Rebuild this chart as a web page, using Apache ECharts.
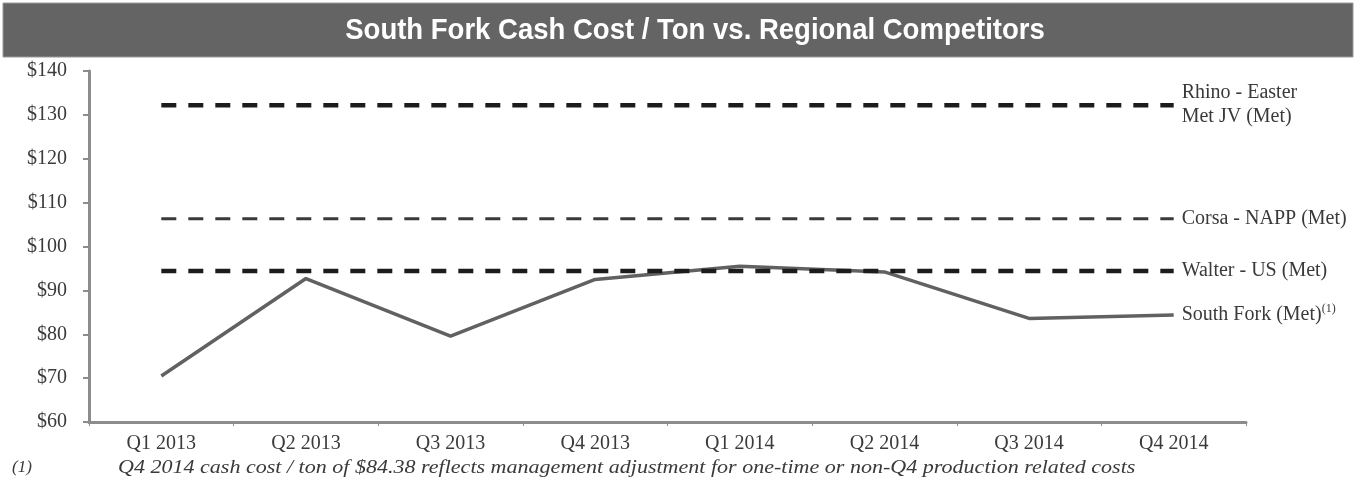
<!DOCTYPE html>
<html>
<head>
<meta charset="utf-8">
<script src="https://cdn.jsdelivr.net/npm/echarts@6/dist/echarts.min.js"></script>
<style>
  html, body { margin: 0; padding: 0; background: #ffffff; }
  #chart { width: 1356px; height: 484px; }
</style>
</head>
<body>
<div id="chart"></div>
<script>
// ---- data ----
const categories = ['Q1 2013', 'Q2 2013', 'Q3 2013', 'Q4 2013', 'Q1 2014', 'Q2 2014', 'Q3 2014', 'Q4 2014'];
const southFork = [70.5, 92.7, 79.6, 92.5, 95.5, 94.2, 83.6, 84.38];
const rhino = [132.2, 132.2, 132.2, 132.2, 132.2, 132.2, 132.2, 132.2];
const corsa = [106.3, 106.3, 106.3, 106.3, 106.3, 106.3, 106.3, 106.3];
const walter = [94.4, 94.4, 94.4, 94.4, 94.4, 94.4, 94.4, 94.4];
const yTicks = { min: 60, max: 140, interval: 10 };
const titleText = 'South Fork Cash Cost / Ton vs. Regional Competitors';
const footnoteMark = '(1)';
const footnoteText = 'Q4 2014 cash cost / ton of $84.38 reflects management adjustment for one-time or non-Q4 production related costs';
const labels = {
  southFork: 'South Fork (Met)',
  rhino: 'Rhino - Easter\nMet JV (Met)',
  corsa: 'Corsa - NAPP (Met)',
  walter: 'Walter - US (Met)'
};

const serif = '"Liberation Serif", "DejaVu Serif", serif';
const textColor = '#3a3a3a';
const axisColor = '#8c8c8c';

const chart = echarts.init(document.getElementById('chart'), null, { renderer: 'canvas' });

function dashed(name, data, width, color, label) {
  return {
    name: name,
    type: 'line',
    data: data,
    symbol: 'none',
    silent: true,
    lineStyle: { color: color, width: width, type: [15, 12], cap: 'butt' },
    endLabel: {
      show: true,
      formatter: label,
      distance: 8,
      fontFamily: serif,
      fontSize: 20,
      lineHeight: 24,
      color: textColor,
      align: 'left'
    }
  };
}

chart.setOption({
  animation: false,
  backgroundColor: '#ffffff',
  grid: { left: 89, right: 110, top: 71, bottom: 62, containLabel: false },
  xAxis: {
    type: 'category',
    data: categories,
    boundaryGap: true,
    axisLine: { lineStyle: { color: axisColor, width: 3 } },
    axisTick: { show: true, length: 4, lineStyle: { color: axisColor, width: 1 } },
    axisLabel: { color: textColor, fontFamily: serif, fontSize: 20, margin: 12 },
    splitLine: { show: false }
  },
  yAxis: {
    type: 'value',
    min: yTicks.min,
    max: yTicks.max,
    interval: yTicks.interval,
    axisLine: { show: true, lineStyle: { color: axisColor, width: 3 } },
    axisTick: { show: true, length: 6, lineStyle: { color: axisColor, width: 2 } },
    axisLabel: { color: textColor, fontFamily: serif, fontSize: 20, margin: 22, formatter: v => '$' + v },
    splitLine: { show: false }
  },
  series: [
    {
      name: 'South Fork (Met)',
      type: 'line',
      data: southFork,
      symbol: 'none',
      lineStyle: { color: '#616161', width: 3.5 },
      endLabel: {
        show: true,
        distance: 8,
        formatter: '{a|' + labels.southFork + '}{s|(1)}',
        rich: {
          a: { fontFamily: serif, fontSize: 20, color: textColor, lineHeight: 24 },
          s: { fontFamily: serif, fontSize: 12, color: textColor, verticalAlign: 'top', lineHeight: 24, padding: [0, 0, 10, 0] }
        }
      }
    },
    dashed('Rhino - Easter Met JV (Met)', rhino, 4.5, '#1c1c1c', labels.rhino),
    dashed('Corsa - NAPP (Met)', corsa, 3, '#3a3a3a', labels.corsa),
    dashed('Walter - US (Met)', walter, 4.5, '#1c1c1c', labels.walter)
  ],
  graphic: [
    { type: 'rect', shape: { x: 3, y: 3, width: 1350, height: 54 }, style: { fill: '#646464', stroke: '#9a9a9a', lineWidth: 1 }, silent: true },
    { type: 'text', x: 695, y: 31, scaleX: 0.917, style: { text: titleText, fill: '#ffffff', font: 'bold 30px "Liberation Sans", Arial, sans-serif', align: 'center', verticalAlign: 'middle' }, silent: true },
    { type: 'text', x: 12, y: 468, style: { text: footnoteMark, fill: textColor, font: 'italic 17px ' + serif, align: 'left', verticalAlign: 'middle' }, silent: true },
    { type: 'text', x: 118, y: 468, scaleX: 1.16, style: { text: footnoteText, fill: textColor, font: 'italic 19px ' + serif, align: 'left', verticalAlign: 'middle' }, silent: true }
  ]
});
</script>
</body>
</html>
